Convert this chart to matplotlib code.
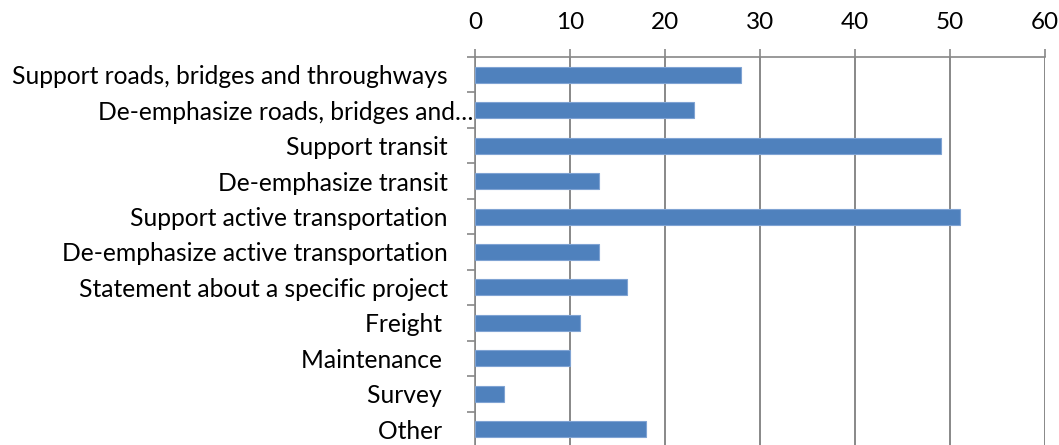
import matplotlib
matplotlib.use('Agg')
import matplotlib.pyplot as plt
import matplotlib.transforms as mtransforms
import numpy as np

# 數據
categories = ['Support roads, bridges and throughways',
              'De-emphasize roads, bridges and\u2026',
              'Support transit',
              'De-emphasize transit',
              'Support active transportation',
              'De-emphasize active transportation',
              'Statement about a specific project',
              'Freight ',
              'Maintenance ',
              'Survey ',
              'Other ']
values = [28, 23, 49, 13, 51, 13, 16, 11, 10, 3, 18]
xticks = [0, 10, 20, 30, 40, 50, 60]

plt.rcParams['font.family'] = ['Lato', 'DejaVu Sans']

fig = plt.figure(figsize=(10.59, 4.45), dpi=100)
ax = fig.add_axes([475/1059, -2/445, (1045-475)/1059, (445+2-57)/445])

y = np.arange(len(categories))
ax.barh(y, values, height=0.45, color='#4F81BD', edgecolor='#7FA3D3', linewidth=0.8, zorder=3)

ax.set_xlim(0, 60)
ax.set_ylim(len(categories) - 0.5, -0.5)
ax.set_xticks(xticks)
ax.xaxis.tick_top()
ax.tick_params(axis='x', length=6, width=1.2, color='#888888', labelsize=17.5, pad=11)
ax.grid(axis='x', color='#888888', linewidth=1.4, zorder=0)

ax.set_yticks(y)
ax.set_yticklabels(categories, fontsize=17.7)
ax.set_yticks(np.arange(len(categories) + 1) - 0.5, minor=True)
ax.tick_params(axis='y', which='major', length=0, pad=19.5)
ax.tick_params(axis='y', which='minor', length=6, width=1.2, color='#888888')

# 被截斷的標籤更靠近軸
lab = ax.get_yticklabels()[1]
lab.set_transform(lab.get_transform() + mtransforms.ScaledTranslation(18/72, 0, fig.dpi_scale_trans))

for s in ['right', 'bottom']:
    ax.spines[s].set_visible(False)
for s in ['left', 'top']:
    ax.spines[s].set_color('#888888')
    ax.spines[s].set_linewidth(1.2)

fig.savefig('out.png', dpi=100)
